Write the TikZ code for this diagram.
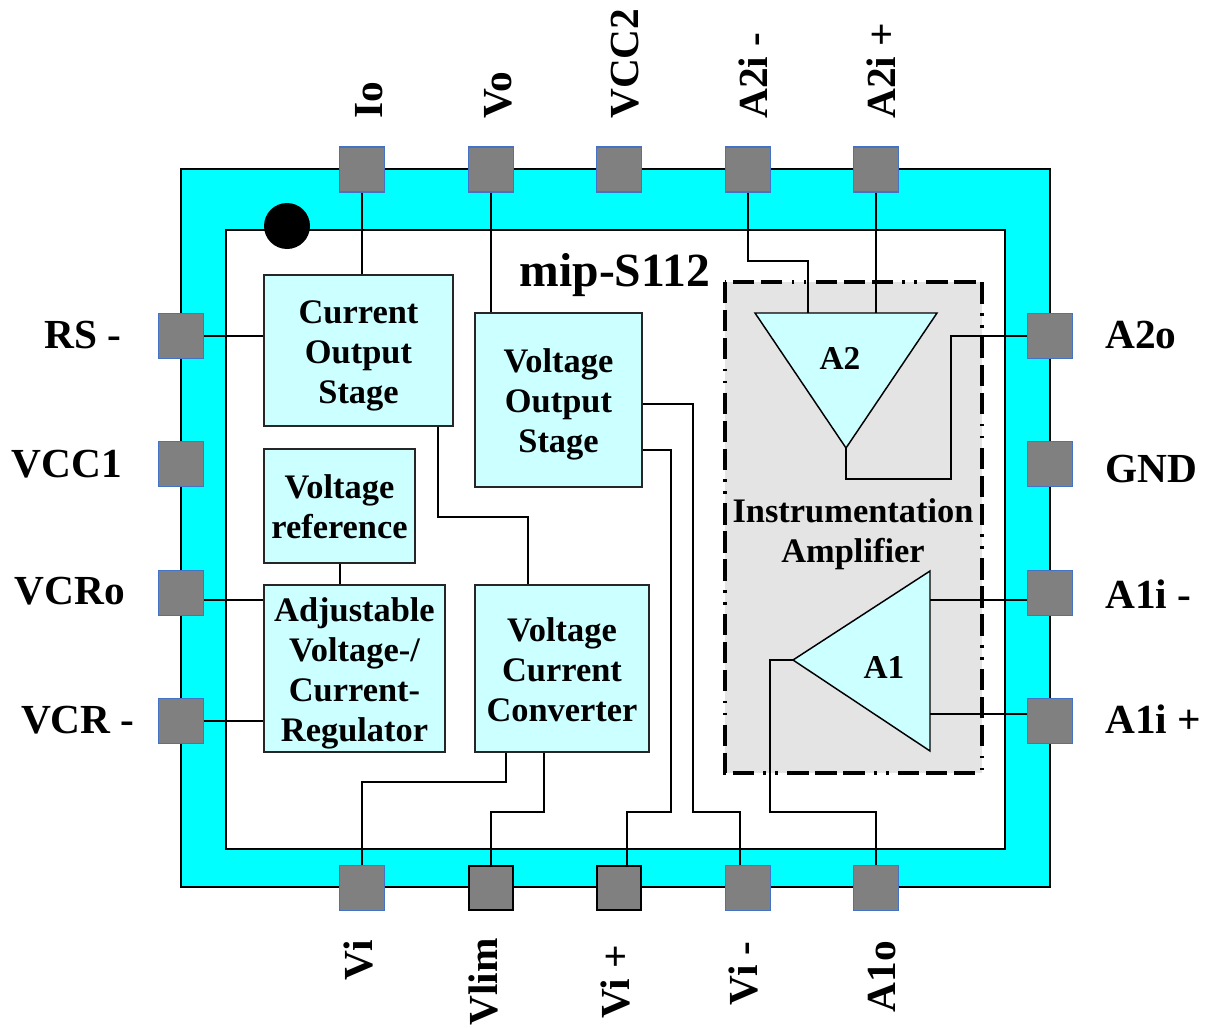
\documentclass[tikz,border=0pt]{standalone}
\usepackage{fontspec}
\setmainfont{Liberation Serif}
\usetikzlibrary{calc}
\definecolor{ring}{HTML}{00FFFF}
\definecolor{boxfill}{HTML}{CCFFFF}
\definecolor{groupfill}{HTML}{E4E4E4}
\definecolor{padfill}{HTML}{808080}
\definecolor{padedge}{HTML}{4472C4}
\newcommand{\firstline}[1]{\rule{0pt}{#1}}
\tikzset{
  x=0.75pt,y=-0.75pt,
  wire/.style={draw=black,line width=1.6pt,line join=miter},
  pad/.style={rectangle,draw=padedge,fill=padfill,line width=1pt,minimum size=33.5pt,inner sep=0pt},
  padk/.style={pad,draw=black,line width=1.7pt},
  blockbox/.style={rectangle,draw=black!85,fill=boxfill,line width=1.1pt,inner sep=0pt,align=center,
    font=\fontsize{25.8}{30}\selectfont\bfseries},
  lab/.style={font=\fontsize{31}{33}\selectfont\bfseries,inner sep=0pt},
  amp/.style={draw=black,fill=boxfill,line width=1.1pt,line join=miter},
  innertext/.style={font=\fontsize{25.8}{30}\selectfont\bfseries,inner sep=0pt,align=center},
}
\begin{document}
\begin{tikzpicture}
\useasboundingbox (0,0) rectangle (1212,1027);
% package body
\draw[fill=ring,draw=black,line width=1.5pt] (181,169) rectangle (1050,887);
\draw[fill=white,draw=black,line width=1.5pt] (226,230) rectangle (1005,849);
\node[circle,fill=black,minimum size=34.5pt,inner sep=0pt] (dot) at (287,226) {};
% instrumentation group
\draw[fill=groupfill,draw=none] (725,282) rectangle (982,773);
\draw[line width=2.4pt,dash pattern=on 16pt off 5pt on 16pt off 5pt on 16pt off 7pt on 2pt off 7pt on 2pt off 7pt] (725,282) rectangle (982,773);
% pads
\node[pad] (io) at (362,169.5) {};
\node[pad] (vo) at (491,169.5) {};
\node[pad] (vcc2) at (619,169.5) {};
\node[pad] (a2m) at (748,169.5) {};
\node[pad] (a2p) at (876,169.5) {};
\node[pad] (rs) at (181,336) {};
\node[pad] (vcc1) at (181,464) {};
\node[pad] (vcro) at (181,593) {};
\node[pad] (vcr) at (181,721) {};
\node[pad] (a2o) at (1050,336) {};
\node[pad] (gnd) at (1050,464) {};
\node[pad] (a1m) at (1050,593) {};
\node[pad] (a1p) at (1050,721) {};
\node[pad] (vi) at (362,888) {};
\node[padk] (vlim) at (491,888) {};
\node[padk] (vip) at (619,888) {};
\node[pad] (vim) at (748,888) {};
\node[pad] (a1o) at (876,888) {};
% blocks
\node[blockbox,minimum width=141.75pt,minimum height=113.25pt] (cur) at (358.5,350.5) {\firstline{25.5pt}Current\\Output\\Stage};
\node[blockbox,minimum width=125.25pt,minimum height=130.5pt] (vos) at (558.5,400) {\firstline{24pt}Voltage\\Output\\Stage};
\node[blockbox,minimum width=113.25pt,minimum height=85.5pt] (ref) at (339.5,506) {\firstline{19.5pt}Voltage\\reference};
\node[blockbox,minimum width=135.75pt,minimum height=125.25pt] (adj) at (354.5,668.5) {\firstline{25.5pt}Adjustable\\Voltage-/\\Current-\\Regulator};
\node[blockbox,minimum width=130.5pt,minimum height=125.25pt] (vcc) at (562,668.5) {\firstline{19.5pt}Voltage\\Current\\Converter};
% amplifiers
\draw[amp] (755,313) coordinate (a2tl) -- (937,313) coordinate (a2tr) -- (846,448) coordinate (a2out) -- cycle;
\draw[amp] (930,571) coordinate (a1t) -- (930,751) coordinate (a1b) -- (793,660) coordinate (a1out) -- cycle;
\node[innertext,font=\fontsize{25}{28}\selectfont\bfseries] (a2name) at (840,358) {A2};
\node[innertext,font=\fontsize{25}{28}\selectfont\bfseries] (a1name) at (884,667) {A1};
% named routing points
\coordinate (ta) at (438,517);
\coordinate (tb) at (528,517);
\coordinate (tc) at (506,782);
\coordinate (td) at (544,812);
\coordinate (te) at (693,404);
\coordinate (tf) at (740,812);
\coordinate (tg) at (671,450);
\coordinate (th) at (627,812);
\coordinate (ti) at (770,660);
\coordinate (tj) at (748,261);
\coordinate (tk) at (808,313);
\coordinate (tl) at (846,479);
\coordinate (tm) at (951,336);
\coordinate (tn) at (930,600);
\coordinate (to) at (930,714);
% connectors
\draw[wire] (io.south) -- (io.south |- cur.north);
\draw[wire] (vo.south) -- (vo.south |- vos.north);
\draw[wire] (rs.east) -- (rs.east -| cur.west);
\draw[wire] (ta |- cur.south) -- (ta) -- (tb) -- (tb |- vcc.north);
\draw[wire] (ref.south -| 340,0) -- (340,0 |- adj.north);
\draw[wire] (vcro.east |- 0,600) -- (adj.west |- 0,600);
\draw[wire] (vcr.east) -- (vcr.east -| adj.west);
\draw[wire] (tc |- vcc.south) -- (tc) -- (vi.north |- tc) -- (vi.north);
\draw[wire] (td |- vcc.south) -- (td) -- (vlim.north |- td) -- (vlim.north);
\draw[wire] (vos.east |- te) -- (te) -- (te |- tf) -- (tf) -- (tf |- vim.north);
\draw[wire] (vos.east |- tg) -- (tg) -- (tg |- th) -- (th) -- (th |- vip.north);
\draw[wire] (a1out) -- (ti) -- (ti |- td) -- (a1o.north |- td) -- (a1o.north);
\draw[wire] (a2m.south) -- (tj) -- (tk |- tj) -- (tk);
\draw[wire] (a2p.south) -- (a2p.south |- a2tr);
\draw[wire] (a2out) -- (tl) -- (tm |- tl) -- (tm) -- (a2o.west);
\draw[wire] (tn) -- (tn -| a1m.west);
\draw[wire] (to) -- (to -| a1p.west);
% texts
\node[font=\fontsize{35.7}{40}\selectfont\bfseries,inner sep=0pt,anchor=base] (title) at (615,286) {mip-S112};
\node[innertext,anchor=base] (instr) at (853,522) {Instrumentation};
\node[innertext,anchor=base] (ampl) at (853,562) {Amplifier};
\node[lab,anchor=base east] (lrs) at (122,348) {RS -};
\node[lab,anchor=base east] (lvcc1) at (122,477) {VCC1};
\node[lab,anchor=base east] (lvcro) at (125,604) {VCRo};
\node[lab,anchor=base east] (lvcr) at (135,733) {VCR -};
\node[lab,anchor=base west] (la2o) at (1105,348) {A2o};
\node[lab,anchor=base west] (lgnd) at (1105,482) {GND};
\node[lab,anchor=base west] (la1m) at (1105,608) {A1i -};
\node[lab,anchor=base west] (la1p) at (1105,733) {A1i +};
\node[lab,rotate=90,anchor=base west] (lio) at (382,119) {Io};
\node[lab,rotate=90,anchor=base west] (lvo) at (511,119) {Vo};
\node[lab,rotate=90,anchor=base west] (lvcc2) at (638,119) {VCC2};
\node[lab,rotate=90,anchor=base west] (la2m) at (767,119) {A2i -};
\node[lab,rotate=90,anchor=base west] (la2p) at (895,119) {A2i +};
\node[lab,rotate=90,anchor=base east] (lvi) at (372,940) {Vi};
\node[lab,rotate=90,anchor=base east] (lvlim) at (497,938) {Vlim};
\node[lab,rotate=90,anchor=base east] (lvip) at (629,945) {Vi +};
\node[lab,rotate=90,anchor=base east] (lvim) at (757,941) {Vi -};
\node[lab,rotate=90,anchor=base east] (la1o) at (895,941) {A1o};
\end{tikzpicture}
\end{document}
